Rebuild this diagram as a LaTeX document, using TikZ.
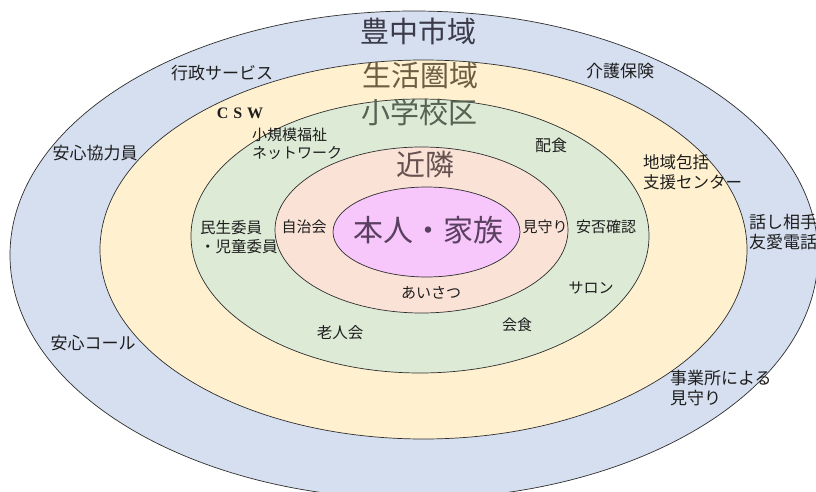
\documentclass[tikz,border=0pt]{standalone}
\usepackage{fontspec}
\setmainfont{Noto Sans CJK JP}
\newfontfamily\cswfont[LetterSpace=30]{Liberation Serif}
\definecolor{cblue}{HTML}{D6DFF0}
\definecolor{cyellow}{HTML}{FFF0CF}
\definecolor{cgreen}{HTML}{DDEAD6}
\definecolor{cpink}{HTML}{FBE2D7}
\definecolor{cmag}{HTML}{F7C6FA}
\definecolor{linec}{HTML}{2E2E2E}
\definecolor{txt}{HTML}{1E1E1E}
\definecolor{tblue}{HTML}{3A3A48}
\definecolor{tyellow}{HTML}{6B5E42}
\definecolor{tgreen}{HTML}{566252}
\definecolor{tpink}{HTML}{655250}
\definecolor{tmag}{HTML}{5A4060}
\tikzset{
  ring/.style={draw=linec, line width=0.7pt},
  big/.style={font=\fontsize{29}{32}\selectfont, inner sep=0pt},
  lbl/.style={font=\fontsize{15}{18.5}\selectfont, text=txt, inner sep=0pt, align=left},
  lblo/.style={font=\fontsize{17}{20}\selectfont, text=txt, inner sep=0pt, align=left},
}
\begin{document}
\begin{tikzpicture}[x=1pt,y=-1pt]
\useasboundingbox (0,0) rectangle (816,492);
\fill[white] (0,0) rectangle (816,492);
\begin{scope}
\clip (0,0) rectangle (816,492);
\filldraw[ring, fill=cblue] (414,255) ellipse [x radius=404pt, y radius=244pt];
\filldraw[ring, fill=cyellow] (423.5,249.5) ellipse [x radius=323.5pt, y radius=189.5pt];
\filldraw[ring, fill=cgreen] (420,236) ellipse [x radius=229pt, y radius=137pt];
\filldraw[ring, fill=cpink] (421.5,230) ellipse [x radius=146.5pt, y radius=83pt];
\filldraw[ring, fill=cmag] (426.5,232) ellipse [x radius=93.5pt, y radius=45pt];

\node[big, text=tblue] (city) at (418,31) {豊中市域};
\node[big, text=tyellow] (life) at (420,75) {生活圏域};
\node[big, text=tgreen] (school) at (419,112) {小学校区};
\node[big, text=tpink] (near) at (425,165) {近隣};
\node[big, text=tmag, font=\fontsize{30}{32}\selectfont] (self) at (428,230) {本人・家族};

\node[lblo] (gyosei) at (222,73) {行政サービス};
\node[lblo] (kaigo) at (620,71) {介護保険};
\node[inner sep=0pt, text=txt, font=\cswfont\bfseries\fontsize{16}{18}\selectfont] (csw) at (240,113) {CSW};
\node[lblo] (anshin) at (95,153) {安心協力員};
\node[lbl, anchor=west] (shokibo) at (252,144) {小規模福祉\\ネットワーク};
\node[lbl, font=\fontsize{16}{18}\selectfont] (haishoku) at (551,145) {配食};
\node[lblo, anchor=west, font=\fontsize{16.5}{19.5}\selectfont] (chiiki) at (643,172) {地域包括\\支援センター};
\node[lblo, anchor=west] (hanashi) at (749,232) {話し相手\\友愛電話};
\node[lbl, anchor=west, font=\fontsize{15.5}{19}\selectfont] (minsei) at (200,237) {民生委員\\・児童委員};
\node[lbl] (jichi) at (304,227) {自治会};
\node[lbl] (mimamori) at (545,227) {見守り};
\node[lbl] (anpi) at (606,227) {安否確認};
\node[lbl] (aisatsu) at (431,293) {あいさつ};
\node[lbl] (salon) at (591,288) {サロン};
\node[lbl, font=\fontsize{15.5}{18}\selectfont] (rojin) at (340,333) {老人会};
\node[lbl] (kaishoku) at (517,325) {会食};
\node[lblo] (call) at (93,343) {安心コール};
\node[lblo, anchor=west] (jigyo) at (670,388) {事業所による\\見守り};
\end{scope}
\end{tikzpicture}
\end{document}
